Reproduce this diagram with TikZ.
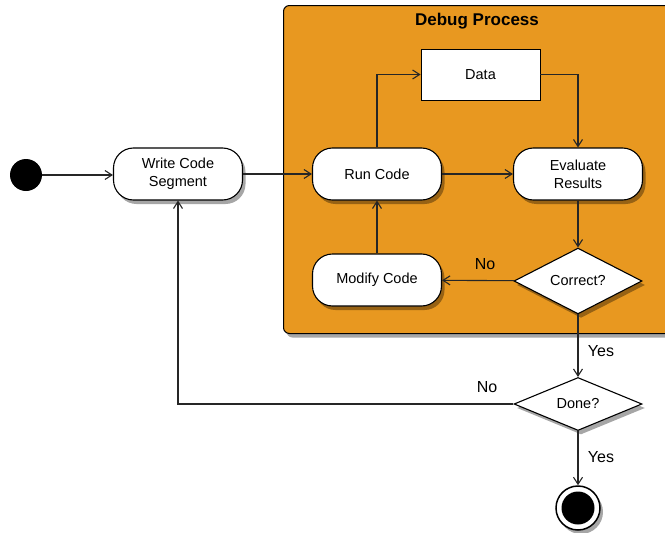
\documentclass[tikz,border=0pt]{standalone}
\usepackage{fontspec}
\setmainfont{Liberation Sans}
\usetikzlibrary{arrows.meta,shapes.geometric,shadows,positioning}
\definecolor{dbgorange}{RGB}{232,152,32}
\tikzset{
  x=1pt, y=-1pt,
  every node/.style={font=\fontsize{14.5}{18}\selectfont},
  shade/.style={drop shadow={shadow xshift=3pt, shadow yshift=-4pt, opacity=0.35, fill=black}},
  act/.style={draw=black, line width=1.1pt, fill=white, rounded corners=20pt, minimum width=129pt, minimum height=52pt, align=center, inner sep=2pt, shade},
  datab/.style={draw=black, line width=0.8pt, fill=white, minimum width=119pt, minimum height=51pt, inner sep=2pt},
  dec/.style={diamond, draw=black, line width=1.1pt, fill=white, minimum width=128pt, minimum height=52pt, inner sep=0pt, shade},
  conn/.style={draw=black!85, line width=1.1pt, -{Straight Barb[length=7pt,width=9pt,line width=1.1pt]}},
  lab/.style={font=\fontsize{16}{18}\selectfont}
}
\begin{document}
\begin{tikzpicture}
\useasboundingbox (0,0) rectangle (665,533);
\begin{scope}
\clip (0,0) rectangle (665,533);
\node[draw=black, line width=1pt, fill=dbgorange, rounded corners=6pt, minimum width=400pt, minimum height=328pt, anchor=north west, inner sep=0pt, shade] (box) at (283,5) {};
\end{scope}
\node[font=\fontsize{17}{19}\selectfont\bfseries] (title) at (477,21) {Debug Process};

\node[circle, fill=black, minimum size=32pt, inner sep=0pt] (start) at (26,175) {};
\node[act] (write) at (178,174) {Write Code\\Segment};
\node[act] (run) at (377,174) {Run Code};
\node[datab] (data) at (480.5,74.5) {Data};
\node[act] (eval) at (578,174) {Evaluate\\Results};
\node[act] (modify) at (377,280) {Modify Code};
\node[dec] (correct) at (578,281) {Correct?};
\node[dec] (done) at (578,404) {Done?};
\node[circle, draw=black, line width=1.5pt, fill=white, minimum size=44pt, inner sep=0pt, shade] (endo) at (578,508) {};
\node[circle, fill=black, minimum size=33pt, inner sep=0pt] (endi) at (578,508) {};

\draw[conn] (start.east) -- (start.east -| write.west);
\draw[conn] (write) -- (run);
\draw[conn] (run.north) |- (data.west);
\draw[conn] (data.east) -| (eval.north);
\draw[conn] (run) -- (eval);
\draw[conn] (eval) -- (correct);
\draw[conn] (correct) -- (modify);
\draw[conn] (modify) -- (run);
\draw[conn] (correct) -- (done);
\draw[conn] (done.west) -| (write.south);
\draw[conn] (done) -- (endo);

\node[lab] (no1) at (485,264) {No};
\node[lab] (yes1) at (601,351) {Yes};
\node[lab] (no2) at (487,387) {No};
\node[lab] (yes2) at (601,457) {Yes};
\end{tikzpicture}
\end{document}
